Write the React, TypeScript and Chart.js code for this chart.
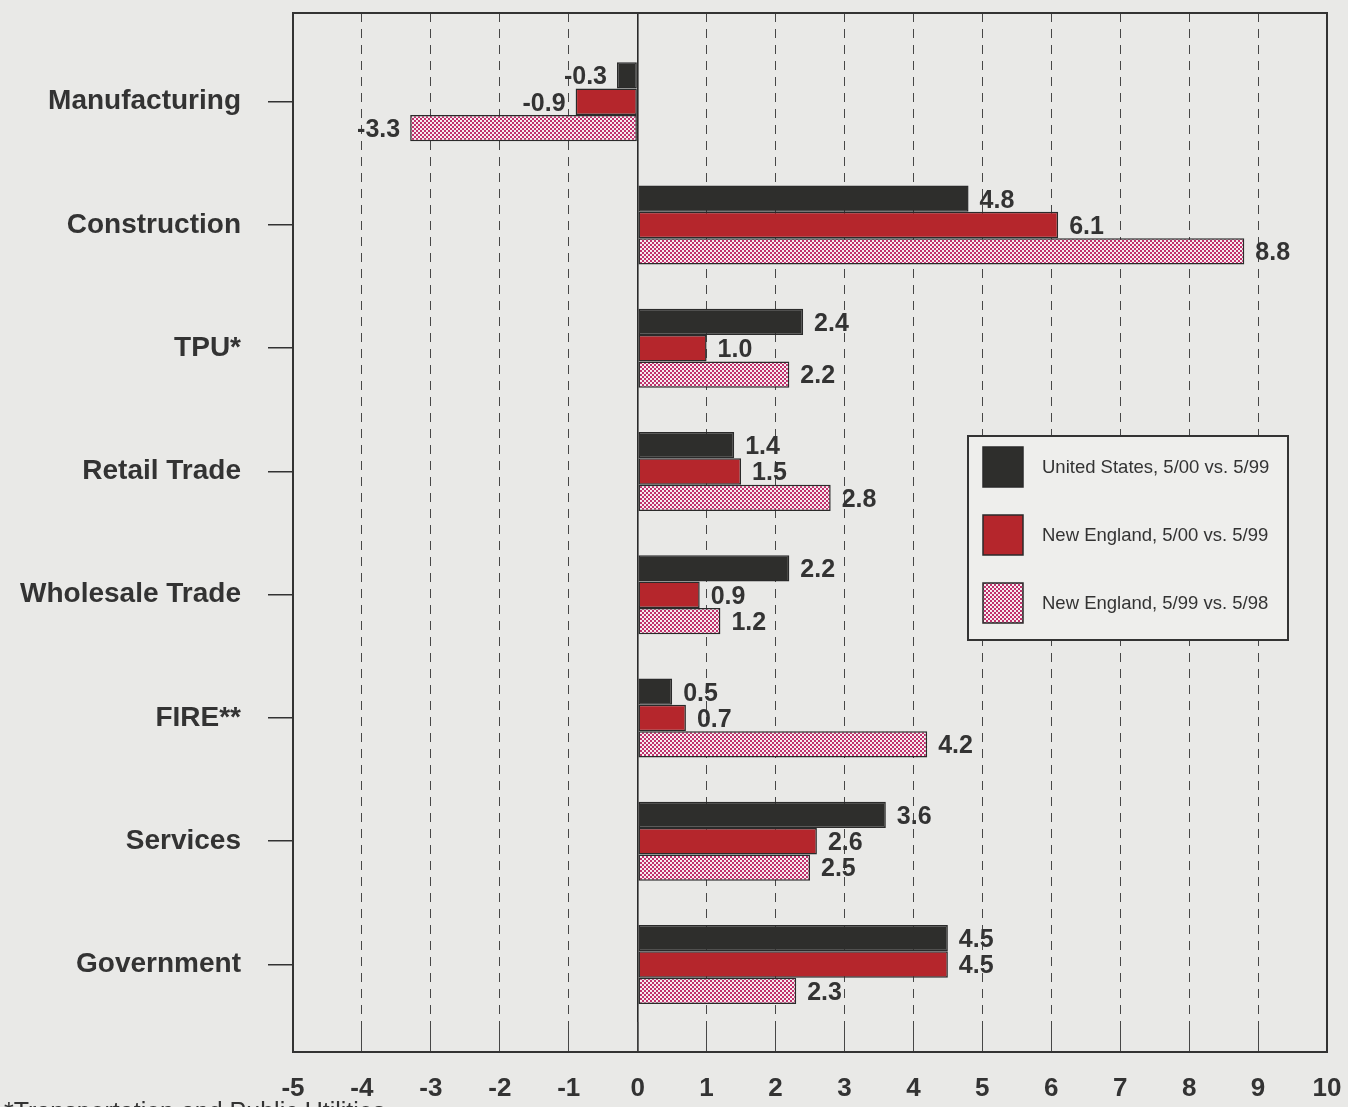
import React, { useEffect, useRef } from 'react';
import { Chart, registerables } from 'chart.js';

Chart.register(...registerables);

const categories = ['Manufacturing', 'Construction', 'TPU*', 'Retail Trade', 'Wholesale Trade', 'FIRE**', 'Services', 'Government'];
const seriesLabels = ['United States, 5/00 vs. 5/99', 'New England, 5/00 vs. 5/99', 'New England, 5/99 vs. 5/98'];
const usChange = [-0.3, 4.8, 2.4, 1.4, 2.2, 0.5, 3.6, 4.5];
const neChange0099 = [-0.9, 6.1, 1.0, 1.5, 0.9, 0.7, 2.6, 4.5];
const neChange9998 = [-3.3, 8.8, 2.2, 2.8, 1.2, 4.2, 2.5, 2.3];
const xMin = -5;
const xMax = 10;
const xStep = 1;
const footnote = '*Transportation and Public Utilities';

const BG = '#e9e9e7';
const INK = '#333333';
const FONT = '"Liberation Sans", Arial, Helvetica, sans-serif';

export default function App() {
  const ref = useRef<HTMLCanvasElement>(null);

  useEffect(() => {
    document.body.style.margin = '0';
    document.body.style.background = BG;
    const canvas = ref.current!;
    const ctx0 = canvas.getContext('2d')!;

    const tile = document.createElement('canvas');
    tile.width = 4;
    tile.height = 4;
    const t = tile.getContext('2d')!;
    t.fillStyle = '#c0306c';
    t.fillRect(0, 0, 4, 4);
    t.fillStyle = '#f6ecf0';
    t.fillRect(0, 0, 2, 2);
    t.fillRect(2, 2, 2, 2);
    const pinkPattern = ctx0.createPattern(tile, 'repeat')!;

    const fills: any[] = ['#2e2e2c', '#b5262c', pinkPattern];
    const seriesValues = [usChange, neChange0099, neChange9998];

    const datasets = seriesValues.map((vals, di) => ({
      label: seriesLabels[di],
      data: vals.map((v, i) => ({ x: v, y: i })),
      backgroundColor: fills[di],
      borderColor: '#2a2a2a',
      borderWidth: 1.5,
      borderSkipped: false,
      categoryPercentage: 0.64,
      barPercentage: 1,
    }));

    const bgPlugin = {
      id: 'bg',
      beforeDraw(chart: any) {
        const c = chart.ctx;
        c.save();
        c.fillStyle = BG;
        c.fillRect(0, 0, chart.width, chart.height);
        c.restore();
      },
    };

    const labelsPlugin = {
      id: 'valueLabels',
      afterDatasetsDraw(chart: any) {
        const c = chart.ctx;
        c.save();
        c.font = `bold 25px ${FONT}`;
        c.fillStyle = INK;
        c.textBaseline = 'middle';
        chart.data.datasets.forEach((ds: any, di: number) => {
          const meta = chart.getDatasetMeta(di);
          meta.data.forEach((el: any, i: number) => {
            const v = ds.data[i].x;
            const txt = v.toFixed(1);
            if (v >= 0) {
              c.textAlign = 'left';
              c.fillText(txt, el.x + 11, el.y + 2);
            } else {
              c.textAlign = 'right';
              c.fillText(txt, el.x - 10, el.y + 2);
            }
          });
        });
        c.restore();
      },
    };

    const framePlugin = {
      id: 'frameLegend',
      afterDraw(chart: any) {
        const c = chart.ctx;
        const a = chart.chartArea;
        c.save();
        c.strokeStyle = INK;
        c.lineWidth = 2;
        c.strokeRect(a.left, a.top, a.right - a.left, a.bottom - a.top);

        // legend box
        const lx = 968, ly = 436, lw = 320, lh = 204;
        c.fillStyle = '#eeeeec';
        c.fillRect(lx, ly, lw, lh);
        c.lineWidth = 2;
        c.strokeStyle = INK;
        c.strokeRect(lx, ly, lw, lh);
        c.font = `18.5px ${FONT}`;
        c.textBaseline = 'middle';
        c.textAlign = 'left';
        chart.data.datasets.forEach((ds: any, di: number) => {
          const sy = ly + 11 + di * 68;
          c.fillStyle = ds.backgroundColor;
          c.fillRect(lx + 15, sy, 40, 40);
          c.lineWidth = 1.5;
          c.strokeStyle = '#2a2a2a';
          c.strokeRect(lx + 15, sy, 40, 40);
          c.fillStyle = INK;
          c.fillText(ds.label, lx + 74, sy + 21);
        });

        // footnote (cut off at the bottom edge, as in the scan)
        c.font = `25px ${FONT}`;
        c.textBaseline = 'top';
        c.fillStyle = INK;
        c.fillText(footnote, 4, 1101);
        c.restore();
      },
    };

    const chart = new Chart(canvas, {
      type: 'bar',
      data: { datasets: datasets as any },
      options: {
        animation: false,
        responsive: false,
        indexAxis: 'y',
        layout: { padding: { top: 13, right: 21, left: 0, bottom: 0 } },
        plugins: { legend: { display: false }, tooltip: { enabled: false } },
        scales: {
          x: {
            type: 'linear',
            position: 'bottom',
            min: xMin,
            max: xMax,
            offset: false,
            ticks: {
              stepSize: xStep,
              color: INK,
              font: { family: FONT, size: 26, weight: 'bold' },
              padding: 51,
              autoSkip: false,
              maxRotation: 0,
            },
            grid: {
              offset: false,
              color: (ctx: any) => (ctx.tick && ctx.tick.value === 0 ? '#2a2a2a' : '#474747'),
              lineWidth: (ctx: any) => (ctx.tick && ctx.tick.value === 0 ? 1.6 : 1),
              drawTicks: true,
              tickLength: -30,
              tickColor: '#474747',
              tickWidth: 1,
              tickBorderDash: [],
            } as any,
            border: {
              display: false,
              dash: (ctx: any) => (ctx.tick && ctx.tick.value === 0 ? [] : [9, 7]),
            } as any,
            afterFit: (s: any) => {
              s.height = 55;
              s.paddingLeft = 0;
              s.paddingRight = 0;
              s.paddingTop = 0;
              s.paddingBottom = 0;
            },
          },
          y: {
            type: 'linear',
            reverse: true,
            offset: false,
            min: -0.72,
            max: 7.71,
            afterBuildTicks: (s: any) => {
              s.ticks = categories.map((_, i) => ({ value: i }));
            },
            ticks: {
              callback: (v: any) => categories[v] ?? '',
              color: INK,
              font: { family: FONT, size: 28, weight: 'bold' },
              padding: 27,
              autoSkip: false,
            },
            grid: {
              offset: false,
              drawOnChartArea: false,
              drawTicks: true,
              tickLength: 25,
              color: INK,
              tickColor: INK,
              lineWidth: 1.5,
              tickWidth: 1.5,
            },
            border: { display: false },
            afterFit: (s: any) => {
              s.width = 293;
              s.paddingLeft = 0;
              s.paddingRight = 0;
              s.paddingTop = 0;
              s.paddingBottom = 0;
            },
          },
        },
      } as any,
      plugins: [bgPlugin, labelsPlugin, framePlugin],
    });

    return () => chart.destroy();
  }, []);

  return (
    <div style={{ width: 1348, height: 1107, background: BG, position: 'relative', overflow: 'hidden' }}>
      <canvas ref={ref} width={1348} height={1107} style={{ display: 'block' }} />
    </div>
  );
}
